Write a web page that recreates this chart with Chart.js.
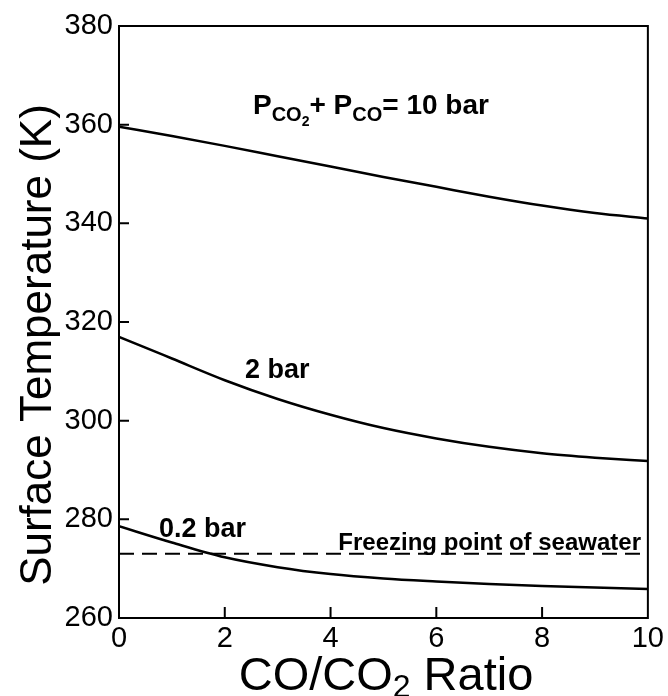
<!DOCTYPE html>
<html>
<head>
<meta charset="utf-8">
<script src="https://cdn.jsdelivr.net/npm/chart.js@4/dist/chart.umd.min.js"></script>
<style>
  html, body { margin: 0; padding: 0; background: #fff; }
  #wrap { width: 668px; height: 696px; position: relative; }
</style>
</head>
<body>
<div id="wrap"><canvas id="tempChart"></canvas></div>
<script>
// CO/CO2 ratio (x) and surface temperature (K) for each total pressure
const coRatio = [0, 1, 2, 3, 4, 5, 6, 7, 8, 9, 10];
const temp10bar = [359.6, 357.7, 355.7, 353.6, 351.5, 349.4, 347.4, 345.4, 343.6, 342.1, 341.0];
const temp2bar = [317.0, 312.6, 308.2, 304.4, 301.2, 298.5, 296.4, 294.7, 293.4, 292.5, 291.8];
const temp02bar = [278.6, 275.3, 272.3, 270.3, 268.9, 268.0, 267.4, 266.9, 266.5, 266.2, 265.9];
const freezingX = [0, 10];
const freezingT = [273, 273];
const xTicks = [0, 2, 4, 6, 8, 10];
const yTicks = [260, 280, 300, 320, 340, 360, 380];

const FONT = '"Liberation Sans", Arial, Helvetica, sans-serif';

const toPoints = (xs, ys) => xs.map((x, i) => ({ x: x, y: ys[i] }));

const curve = (data) => ({
    data: data,
    borderColor: '#000',
    borderWidth: 2.5,
    pointRadius: 0,
    cubicInterpolationMode: 'monotone',
    fill: false
});

// frame, inward ticks, in-plot labels and both axis titles
const decorations = {
    id: 'decorations',
    afterDatasetsDraw(chart) {
        const { ctx, chartArea: a, scales: { x, y } } = chart;
        ctx.save();
        ctx.strokeStyle = '#000';
        ctx.lineWidth = 2;
        ctx.strokeRect(a.left, a.top, a.right - a.left, a.bottom - a.top);

        ctx.beginPath();
        yTicks.slice(1, -1).forEach(v => {
            const py = y.getPixelForValue(v);
            ctx.moveTo(a.left, py);
            ctx.lineTo(a.left + 10, py);
        });
        xTicks.slice(1, -1).forEach(v => {
            const px = x.getPixelForValue(v);
            ctx.moveTo(px, a.bottom);
            ctx.lineTo(px, a.bottom - 11);
        });
        ctx.stroke();

        ctx.fillStyle = '#000';
        ctx.textBaseline = 'alphabetic';
        ctx.textAlign = 'left';

        // P_CO2 + P_CO = 10 bar
        let cx = 253, by = 114;
        const put = (txt, size, dy) => {
            ctx.font = 'bold ' + size + 'px ' + FONT;
            ctx.fillText(txt, cx, by + dy);
            cx += ctx.measureText(txt).width;
        };
        put('P', 28, 0);
        put('CO', 20, 7);
        put('2', 14, 12);
        put('+ P', 28, 0);
        put('CO', 20, 7);
        put('= 10 bar', 28, 0);

        ctx.font = 'bold 27px ' + FONT;
        ctx.fillText('2 bar', 245, 378);
        ctx.fillText('0.2 bar', 159, 537);

        ctx.font = 'bold 24px ' + FONT;
        ctx.textAlign = 'right';
        ctx.fillText('Freezing point of seawater', 641, 550);

        // x axis title with subscript
        const main = '47px ' + FONT, sub = '32px ' + FONT;
        ctx.font = main;
        const w1 = ctx.measureText('CO/CO').width, w3 = ctx.measureText(' Ratio').width;
        ctx.font = sub;
        const w2 = ctx.measureText('2').width;
        const tx = 386 - (w1 + w2 + w3) / 2;
        ctx.textAlign = 'left';
        ctx.font = main;
        ctx.fillText('CO/CO', tx, 690);
        ctx.font = sub;
        ctx.fillText('2', tx + w1, 697);
        ctx.font = main;
        ctx.fillText(' Ratio', tx + w1 + w2, 690);

        // y axis title
        ctx.translate(51, 345);
        ctx.rotate(-Math.PI / 2);
        ctx.textAlign = 'center';
        ctx.font = '44px ' + FONT;
        ctx.fillText('Surface Temperature (K)', 0, 0);
        ctx.restore();
    }
};

new Chart(document.getElementById('tempChart'), {
    type: 'line',
    data: {
        datasets: [
            curve(toPoints(coRatio, temp10bar)),
            curve(toPoints(coRatio, temp2bar)),
            curve(toPoints(coRatio, temp02bar)),
            {
                data: toPoints(freezingX, freezingT),
                borderColor: '#000',
                borderWidth: 2,
                borderDash: [15, 8],
                pointRadius: 0,
                fill: false
            }
        ]
    },
    options: {
        responsive: true,
        maintainAspectRatio: false,
        animation: false,
        layout: { padding: { left: 0, right: 17, top: 26, bottom: 0 } },
        plugins: { legend: { display: false }, tooltip: { enabled: false } },
        scales: {
            x: {
                type: 'linear',
                min: 0,
                max: 10,
                afterBuildTicks: s => { s.ticks = xTicks.map(v => ({ value: v })); },
                afterFit: s => { s.height = 78; },
                grid: { display: false, drawTicks: false },
                border: { display: false },
                ticks: { color: '#000', padding: 4, maxRotation: 0, font: { family: FONT, size: 29 } }
            },
            y: {
                min: 260,
                max: 380,
                afterBuildTicks: s => { s.ticks = yTicks.map(v => ({ value: v })); },
                afterFit: s => { s.width = 119; },
                grid: { display: false, drawTicks: false },
                border: { display: false },
                ticks: { color: '#000', padding: 6, font: { family: FONT, size: 29 } }
            }
        }
    },
    plugins: [decorations]
});
</script>
</body>
</html>
